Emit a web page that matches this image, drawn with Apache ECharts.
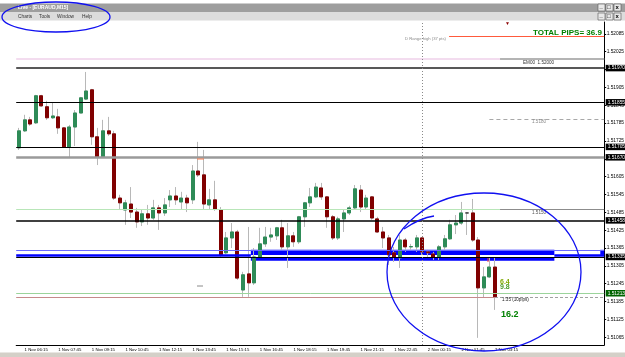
<!DOCTYPE html>
<html>
<head>
<meta charset="utf-8">
<title>Live - [EURAUD,M15]</title>
<script src="https://cdn.jsdelivr.net/npm/echarts@6/dist/echarts.min.js"></script>
<style>
  html, body { margin: 0; padding: 0; background: #fff; }
  #chart { width: 625px; height: 357px; }
</style>
</head>
<body>
<div id="chart"></div>
<script>
// EURAUD M15, 1 Nov 06:00 .. 2 Nov 03:15 (86 bars)
const opens = [
  1.51702, 1.51759, 1.51796, 1.51786, 1.51877, 1.51840, 1.51803, 1.51806, 1.51769, 1.51705,
  1.51772, 1.51819, 1.51866, 1.51897, 1.51739, 1.51671, 1.51759, 1.51749, 1.51533, 1.51493,
  1.51513, 1.51486, 1.51453, 1.51480, 1.51466, 1.51500, 1.51483, 1.51527, 1.51540, 1.51520,
  1.51533, 1.51527, 1.51624, 1.51611, 1.51510, 1.51527, 1.51493, 1.51349, 1.51399, 1.51419,
  1.51224, 1.51278, 1.51248, 1.51335, 1.51379, 1.51402, 1.51406, 1.51433, 1.51369, 1.51406,
  1.51386, 1.51470, 1.51517, 1.51537, 1.51567, 1.51537, 1.51470, 1.51399, 1.51463, 1.51483,
  1.51500, 1.51560, 1.51503, 1.51537, 1.51463, 1.51419, 1.51399, 1.51349, 1.51332, 1.51392,
  1.51369, 1.51369, 1.51399, 1.51352, 1.51345, 1.51335, 1.51369, 1.51396, 1.51443, 1.51449,
  1.51483, 1.51483, 1.51392, 1.51231, 1.51268, 1.51301
];
const closes = [
  1.51759, 1.51796, 1.51782, 1.51877, 1.51843, 1.51803, 1.51809, 1.51769, 1.51705, 1.51772,
  1.51819, 1.51870, 1.51893, 1.51739, 1.51671, 1.51759, 1.51749, 1.51533, 1.51517, 1.51517,
  1.51486, 1.51453, 1.51480, 1.51466, 1.51500, 1.51483, 1.51510, 1.51540, 1.51527, 1.51533,
  1.51517, 1.51624, 1.51611, 1.51513, 1.51527, 1.51496, 1.51342, 1.51399, 1.51419, 1.51264,
  1.51275, 1.51248, 1.51335, 1.51379, 1.51402, 1.51409, 1.51433, 1.51369, 1.51406, 1.51386,
  1.51470, 1.51517, 1.51537, 1.51570, 1.51537, 1.51470, 1.51399, 1.51463, 1.51483, 1.51500,
  1.51564, 1.51503, 1.51533, 1.51466, 1.51419, 1.51399, 1.51342, 1.51335, 1.51392, 1.51369,
  1.51370, 1.51399, 1.51352, 1.51349, 1.51335, 1.51369, 1.51396, 1.51443, 1.51449, 1.51483,
  1.51483, 1.51392, 1.51231, 1.51268, 1.51301, 1.51201
];
const lows = [
  1.51695, 1.51755, 1.51776, 1.51782, 1.51840, 1.51796, 1.51799, 1.51749, 1.51702, 1.51671,
  1.51708, 1.51819, 1.51863, 1.51712, 1.51644, 1.51668, 1.51742, 1.51527, 1.51493, 1.51443,
  1.51466, 1.51433, 1.51439, 1.51443, 1.51460, 1.51426, 1.51473, 1.51503, 1.51510, 1.51493,
  1.51486, 1.51513, 1.51604, 1.51493, 1.51496, 1.51490, 1.51335, 1.51345, 1.51365, 1.51258,
  1.51201, 1.51201, 1.51241, 1.51335, 1.51369, 1.51386, 1.51392, 1.51359, 1.51298, 1.51369,
  1.51379, 1.51436, 1.51503, 1.51533, 1.51527, 1.51433, 1.51392, 1.51392, 1.51419, 1.51476,
  1.51493, 1.51486, 1.51496, 1.51460, 1.51416, 1.51365, 1.51308, 1.51318, 1.51298, 1.51352,
  1.51359, 1.51352, 1.51342, 1.51335, 1.51325, 1.51325, 1.51359, 1.51392, 1.51412, 1.51443,
  1.51409, 1.51386, 1.51063, 1.51197, 1.51264, 1.51157
];
const highs = [
  1.51769, 1.51813, 1.51806, 1.51880, 1.51880, 1.51860, 1.51856, 1.51833, 1.51772, 1.51779,
  1.51829, 1.51873, 1.51957, 1.51900, 1.51769, 1.51796, 1.51806, 1.51759, 1.51544, 1.51527,
  1.51570, 1.51500, 1.51493, 1.51510, 1.51527, 1.51510, 1.51533, 1.51560, 1.51570, 1.51554,
  1.51544, 1.51644, 1.51722, 1.51695, 1.51564, 1.51591, 1.51503, 1.51419, 1.51449, 1.51426,
  1.51285, 1.51436, 1.51365, 1.51433, 1.51436, 1.51433, 1.51436, 1.51460, 1.51449, 1.51419,
  1.51473, 1.51520, 1.51567, 1.51584, 1.51584, 1.51540, 1.51476, 1.51470, 1.51493, 1.51507,
  1.51577, 1.51577, 1.51544, 1.51540, 1.51470, 1.51436, 1.51409, 1.51369, 1.51409, 1.51399,
  1.51379, 1.51409, 1.51402, 1.51359, 1.51352, 1.51375, 1.51409, 1.51460, 1.51476, 1.51520,
  1.51486, 1.51530, 1.51402, 1.51301, 1.51332, 1.51335
];
const shiftBars = 19; // empty bars on the right (chart shift)
const timeLabels = [
  '1 Nov 06:15', '1 Nov 07:45', '1 Nov 09:15', '1 Nov 10:45', '1 Nov 12:15',
  '1 Nov 13:45', '1 Nov 15:15', '1 Nov 16:45', '1 Nov 18:15', '1 Nov 19:45',
  '1 Nov 21:15', '1 Nov 22:45', '2 Nov 00:15', '2 Nov 01:45', '2 Nov 03:15'
];
const priceTicks = [
  1.51065, 1.51125, 1.51185, 1.51245, 1.51305, 1.51365, 1.51425, 1.51485, 1.51545,
  1.51605, 1.51665, 1.51725, 1.51785, 1.51845, 1.51905, 1.51965, 1.52025, 1.52085
];
// horizontal objects on the chart
const boxedLevels = [1.51970, 1.51855, 1.51705, 1.51670, 1.51458, 1.51335, 1.51199];
const greenLevel = 1.51213;
const rangeHigh = 1.52078;
const emaLevel = 1.52000;
const dashedLevel = 1.51799;
const midLevel = 1.51496;
const zoneTop = 1.51359;
const zoneLine = 1.51340;
const zoneBands = [[1.51359, 1.51342], [1.51332, 1.51322]];
const daySeparatorBar = 72;

const FONT = 'Liberation Sans, Arial, sans-serif';
const GREEN = '#2e8b57';
const RED = '#800000';

const slots = Array.from({ length: opens.length + shiftBars }, (_, i) => i);
const lastBar = opens.length - 1;
const xMin = -0.5;
const xMax = slots.length - 0.5;

const wickData = opens.map((o, i) => [o, closes[i], lows[i], highs[i]]);
const bodyData = opens.map((o, i) => [o, closes[i], Math.min(o, closes[i]), Math.max(o, closes[i])]);

const labelShown = (idx) => idx <= lastBar && idx % 6 === 1;

const boxLabel = (bg, fg) => ({
  show: true,
  position: 'end',
  distance: 1.5,
  formatter: (p) => Number(p.value).toFixed(5),
  backgroundColor: bg,
  color: fg,
  fontSize: 4.8,
  fontFamily: FONT,
  padding: [1, 3, 0.5, 2]
});
const noLabel = { show: false };

const seg = (a, b, v, style) => [
  { coord: [a, v], lineStyle: style, label: noLabel },
  { coord: [b, v] }
];
const full = (v, style, label) => ({ yAxis: v, lineStyle: style, label: label || noLabel });

const levelLines = [
  seg(76.8, xMax, rangeHigh, { color: '#ff5a3c', width: 1, type: 'solid' }),
  seg(xMin, 85.9, emaLevel, { color: '#f3dcef', width: 2, type: 'solid' }),
  seg(85.9, xMax, emaLevel, { color: '#b4b4b4', width: 2, type: 'solid' }),
  full(boxedLevels[0], { color: '#202020', width: 1.5, type: 'solid' }, boxLabel('#000', '#fff')),
  full(boxedLevels[1], { color: '#000', width: 1.2, type: 'solid' }, boxLabel('#000', '#fff')),
  seg(84, xMax, dashedLevel, { color: '#a8a8a8', width: 1, type: [4, 3] }),
  full(boxedLevels[2], { color: '#000', width: 1.2, type: 'solid' }, boxLabel('#000', '#fff')),
  full(boxedLevels[3], { color: '#9a9a9a', width: 2.5, type: 'solid' }, boxLabel('#000', '#fff')),
  seg(xMin, 85.9, midLevel, { color: '#b8e6b8', width: 1, type: 'solid' }),
  seg(85.9, xMax, midLevel, { color: '#8c8c8c', width: 1, type: 'solid' }),
  full(boxedLevels[4], { color: '#000', width: 1.5, type: 'solid' }, boxLabel('#000', '#fff')),
  full(zoneTop, { color: '#6a6aff', width: 1, type: 'solid' }),
  seg(xMin, 41.4, zoneLine, { color: '#0000ff', width: 2.5, type: 'solid' }),
  seg(95.6, xMax, zoneLine, { color: '#0000ff', width: 2.5, type: 'solid' }),
  full(boxedLevels[5], { color: '#000', width: 1.2, type: 'solid' }, boxLabel('#000', '#fff')),
  full(greenLevel, { color: '#9bd49b', width: 1, type: 'solid' }, boxLabel('#006400', '#fff')),
  seg(xMin, 85, boxedLevels[6], { color: '#c58a8a', width: 1, type: 'solid' }),
  seg(85, xMax, boxedLevels[6], { color: '#a0a0a0', width: 1, type: [3, 2] }),
  full(boxedLevels[6], { opacity: 0 }, boxLabel('#000', '#fff')),
  { xAxis: daySeparatorBar, lineStyle: { color: '#8a8a8a', width: 1, type: [1, 2] }, label: noLabel }
];

const zoneAreas = [
  ...zoneBands.map(([a, b]) => [{ coord: [41.4, a] }, { coord: [95.6, b] }]),
  [{ coord: [103.8, zoneTop] }, { coord: [xMax, 1.51342] }]
];

const txt = (text, x, y, size, color, weight) => ({
  type: 'text',
  x: x, y: y, z: 120,
  silent: true,
  style: {
    text: text, fill: color, fontSize: size, fontWeight: weight || 'normal',
    fontFamily: FONT, textVerticalAlign: 'middle'
  }
});
const tick = (x1, y1, x2, y2, color) => ({
  type: 'line', z: 110, silent: true,
  shape: { x1: x1, y1: y1, x2: x2, y2: y2 },
  style: { stroke: color, lineWidth: 1 }
});

const winButtons = (y) => [
  { type: 'rect', shape: { x: 598, y: y, width: 7, height: 7 }, style: { fill: '#e8e8e8', stroke: '#555', lineWidth: 0.6 } },
  { type: 'rect', shape: { x: 606, y: y, width: 7, height: 7 }, style: { fill: '#e8e8e8', stroke: '#555', lineWidth: 0.6 } },
  { type: 'rect', shape: { x: 614, y: y, width: 7, height: 7 }, style: { fill: '#e8e8e8', stroke: '#555', lineWidth: 0.6 } },
  txt('_', 599.5, y + 2.5, 6, '#000', 'bold'),
  txt('□', 607, y + 3.5, 6, '#000', 'bold'),
  txt('x', 615.5, y + 3.2, 6, '#000', 'bold')
];

const myChart = echarts.init(document.getElementById('chart'));

const option = {
  animation: false,
  backgroundColor: '#ffffff',
  grid: { left: 16.2, right: 20.8, top: 22, bottom: 12, containLabel: false, outerBoundsMode: 'none' },
  xAxis: [
    {
      type: 'category',
      data: slots,
      boundaryGap: true,
      axisLine: { onZero: false, lineStyle: { color: '#000', width: 1 } },
      axisTick: { interval: (idx) => labelShown(idx), alignWithLabel: true, length: 3, lineStyle: { color: '#000' } },
      axisLabel: {
        interval: (idx) => labelShown(idx),
        formatter: (v, idx) => timeLabels[(idx - 1) / 6] || '',
        align: 'left',
        margin: 2.5,
        fontSize: 4.3,
        fontFamily: FONT,
        color: '#000'
      },
      splitLine: { show: false }
    },
    { type: 'value', min: xMin, max: xMax, show: false }
  ],
  yAxis: {
    type: 'value',
    position: 'right',
    min: 1.51039,
    max: 1.52125,
    axisLine: { show: true, onZero: false, lineStyle: { color: '#000', width: 1 } },
    axisTick: { show: true, customValues: priceTicks, length: 2, lineStyle: { color: '#000' } },
    axisLabel: {
      customValues: priceTicks,
      formatter: (v) => v.toFixed(5),
      margin: 2.5,
      fontSize: 4.8,
      fontFamily: FONT,
      color: '#000'
    },
    splitLine: { show: false }
  },
  series: [
    {
      name: 'wick',
      type: 'candlestick',
      data: wickData,
      barWidth: 3.5,
      silent: true,
      z: 2,
      itemStyle: { color: '#b8b8b8', color0: '#b8b8b8', borderColor: '#b8b8b8', borderColor0: '#b8b8b8', borderWidth: 1 }
    },
    {
      name: 'body',
      type: 'candlestick',
      data: bodyData,
      barWidth: 3.5,
      silent: true,
      z: 3,
      itemStyle: { color: GREEN, color0: RED, borderColor: GREEN, borderColor0: RED, borderColorDoji: '#404040', borderWidth: 1 }
    },
    {
      name: 'objects',
      type: 'line',
      xAxisIndex: 1,
      data: [],
      silent: true,
      z: 4,
      markLine: { symbol: 'none', silent: true, animation: false, precision: 5, data: levelLines },
      markArea: { silent: true, itemStyle: { color: '#0000ff', opacity: 1 }, label: { show: false }, data: zoneAreas }
    }
  ],
  graphic: [
    // terminal window chrome
    { type: 'rect', shape: { x: 0, y: 3.5, width: 625, height: 8.5 }, style: { fill: '#9e9e9e' }, silent: true },
    { type: 'rect', shape: { x: 0, y: 12, width: 625, height: 8.5 }, style: { fill: '#dcdcdc' }, silent: true },
    txt('Live - [EURAUD,M15]', 18, 8, 5, '#ffffff', 'bold'),
    txt('Charts', 18, 16.8, 4.8, '#333'),
    txt('Tools', 39, 16.8, 4.8, '#333'),
    txt('Window', 57, 16.8, 4.8, '#333'),
    txt('Help', 82, 16.8, 4.8, '#333'),
    ...winButtons(4),
    ...winButtons(13),
    { type: 'rect', shape: { x: 0, y: 352.5, width: 625, height: 4.5 }, style: { fill: '#d4d0c8' }, silent: true },
    // chart texts and small object marks
    txt('TOTAL PIPS= 36.9', 533, 33, 8, '#008000', 'bold'),
    txt('D Range high (37 pts)', 405, 38.5, 4.2, '#8a8a8a'),
    txt('EM00  1.52000', 523, 63, 4.6, '#333'),
    txt('1.5180', 532, 122, 4.6, '#8a8a8a'),
    txt('1.5150', 532, 213, 4.6, '#555'),
    txt('▼', 505, 24, 5, '#8b0000'),
    txt('6.4', 500, 282, 7, '#7fa800', 'bold'),
    txt('9.8', 500, 287, 7, '#4c9a2a', 'bold'),
    txt('1:35 (10pips)', 502, 299.5, 4.6, '#222'),
    txt('16.2', 501, 315, 9, '#008000', 'bold'),
    tick(197, 286, 203, 286, '#8a8a8a'),
    tick(197, 159, 204, 159, '#ff7f50'),
    tick(488, 258, 488, 262, '#ff4040'),
    // hand-drawn marks
    { type: 'ellipse', z: 130, silent: true, shape: { cx: 56, cy: 17, rx: 54, ry: 15 }, style: { fill: 'rgba(0,0,0,0)', stroke: '#1010f0', lineWidth: 1.3 } },
    { type: 'ellipse', z: 130, silent: true, shape: { cx: 484, cy: 272, rx: 97, ry: 79 }, style: { fill: 'rgba(0,0,0,0)', stroke: '#1010f0', lineWidth: 1.3 } },
    { type: 'bezierCurve', z: 130, silent: true, shape: { x1: 434, y1: 216, x2: 404, y2: 229, cpx1: 420, cpy1: 218 }, style: { fill: 'rgba(0,0,0,0)', stroke: '#1010f0', lineWidth: 1.3 } }
  ]
};

myChart.setOption(option);

window.onresize = () => {
  myChart.resize();
};
</script>
</body>
</html>
